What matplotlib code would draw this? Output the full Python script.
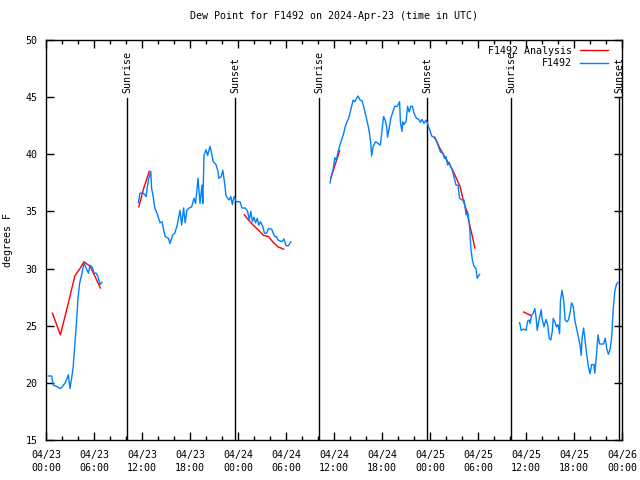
import numpy as np
import matplotlib
matplotlib.use("Agg")
import matplotlib.pyplot as plt
from matplotlib.ticker import MultipleLocator

plt.rcParams['font.family'] = ['DejaVu Sans Mono']
FS = 7.2

title = "Dew Point for F1492 on 2024-Apr-23 (time in UTC)"
ylabel = "degrees F"

# hours since 2024-04-23 00:00 UTC
obs_h1 = [0.29, 0.71, 0.9, 1.3, 1.75, 1.96, 2.4, 2.8, 3.0, 3.2, 3.4, 3.6, 3.8, 4.0, 4.2, 4.5,
          4.75, 5.1, 5.3, 5.5, 5.8, 6.0, 6.25, 6.5, 6.75, 7.0]
obs_v1 = [20.6, 20.6, 19.8, 19.7, 19.5, 19.6, 20.0, 20.7, 19.5, 20.4, 21.4, 23.3, 25.2, 27.4, 28.7, 29.6,
          30.5, 29.9, 29.6, 30.3, 30.1, 29.6, 29.6, 29.3, 28.6, 28.8]

obs_h2 = [11.54, 11.75, 12.17, 12.5, 12.8, 13.1, 13.2, 13.4, 13.6, 13.9, 14.25, 14.5, 14.7, 14.9, 15.3,
          15.5, 15.8, 16.1, 16.4, 16.75, 16.96, 17.2, 17.4, 17.6, 17.9, 18.2, 18.5, 18.7, 19.0, 19.25,
          19.5, 19.6, 19.75, 20.0, 20.2, 20.5, 20.7, 20.9, 21.25, 21.5, 21.6, 21.9, 22.1, 22.3, 22.5,
          22.7, 22.9, 23.1, 23.3, 23.5, 23.8, 24.25, 24.5, 24.9, 25.2, 25.4, 25.6, 25.8, 26.0, 26.2,
          26.4, 26.6, 26.8, 27.1, 27.3, 27.6, 27.8, 28.2, 28.4, 28.6, 28.8, 29.0, 29.5, 29.75, 30.0,
          30.3, 30.6]
obs_v2 = [35.77, 36.6, 36.6, 36.3, 37.75, 38.5, 37.0, 36.3, 35.3, 34.8, 34.0, 34.1, 33.4, 32.8, 32.65,
          32.2, 32.9, 33.1, 33.8, 35.1, 33.8, 35.3, 34.0, 35.1, 35.3, 35.4, 36.15, 35.7, 37.9, 35.7,
          37.3, 35.7, 39.9, 40.4, 39.9, 40.7, 40.1, 39.35, 39.1, 38.5, 37.9, 38.05, 38.6, 37.6, 36.4,
          36.15, 36.0, 36.3, 35.6, 36.3, 35.85, 35.85, 35.3, 35.3, 35.0, 34.25, 35.0, 34.1, 34.5, 34.0,
          34.4, 33.8, 34.1, 33.7, 33.1, 33.1, 33.5, 33.45, 33.1, 32.8, 32.8, 32.5, 32.35, 32.6, 32.0,
          32.0, 32.35]

obs_h3 = [35.5, 35.7, 35.9, 36.1, 36.3, 36.5, 36.8, 37.2, 37.4, 37.6, 37.8, 38.0, 38.2, 38.4, 38.6,
          39.0, 39.25, 39.5, 39.7, 40.0, 40.2, 40.4, 40.6, 40.7, 40.9, 41.2, 41.5, 41.8, 42.0, 42.2,
          42.4, 42.6, 42.7, 42.9, 43.1, 43.3, 43.6, 43.9, 44.2, 44.3, 44.5, 44.6, 44.75, 45.0, 45.2,
          45.4, 45.6, 45.8, 46.0, 46.3, 46.6, 46.8, 47.0, 47.25, 47.5, 47.7, 47.8, 48.0, 48.2, 48.5,
          48.75, 49.0, 49.3, 49.6, 49.8, 50.0, 50.2, 50.4, 50.6, 50.8, 51.0, 51.25, 51.5, 51.7, 52.0,
          52.25, 52.4, 52.5, 52.7, 52.9, 53.0, 53.1, 53.3, 53.5, 53.75, 53.9, 54.2]
obs_v3 = [37.5, 38.2, 38.7, 39.7, 39.5, 40.2, 40.95, 41.8, 42.4, 42.8, 43.1, 43.6, 44.2, 44.75, 44.6,
          45.1, 44.75, 44.7, 44.2, 43.3, 42.7, 42.0, 40.95, 39.85, 40.7, 41.1, 40.95, 40.8, 42.1, 43.3,
          43.0, 42.3, 41.5, 42.3, 43.15, 43.6, 44.2, 44.2, 44.6, 42.8, 42.0, 42.85, 42.6, 42.85, 44.2,
          43.7, 44.2, 44.2, 43.6, 43.15, 43.05, 42.8, 43.05, 42.7, 43.0, 42.7, 42.4, 42.1, 41.6, 41.5,
          41.25, 40.8, 40.2, 40.1, 39.65, 39.8, 39.06, 39.3, 38.9, 38.6, 38.0, 37.3, 37.3, 36.15, 36.0,
          36.0, 35.3, 34.7, 35.0, 34.0, 33.1, 31.8, 30.75, 30.2, 30.0, 29.15, 29.5]

obs_h4 = [59.2, 59.4, 59.7, 60.0, 60.2, 60.4, 60.5, 60.7, 60.9, 61.1, 61.25, 61.4, 61.6, 61.9, 62.0,
          62.25, 62.5, 62.7, 62.9, 63.1, 63.3, 63.4, 63.6, 63.8, 64.0, 64.2, 64.3, 64.5, 64.7, 64.9,
          65.1, 65.3, 65.5, 65.7, 65.9, 66.1, 66.3, 66.5, 66.75, 66.9, 67.0, 67.2, 67.4, 67.6, 67.8,
          68.0, 68.2, 68.5, 68.6, 68.8, 69.0, 69.2, 69.5, 69.7, 69.9, 70.1, 70.3, 70.5, 70.7, 70.9,
          71.1, 71.3, 71.5]
obs_v4 = [25.27, 24.6, 24.7, 24.6, 25.4, 25.5, 25.2, 25.9, 26.1, 26.5, 25.8, 24.6, 25.4, 26.4, 25.65,
          24.9, 25.55, 25.1, 23.9, 23.75, 24.6, 25.65, 25.35, 24.9, 25.1, 24.3, 27.1, 28.1, 27.25, 25.5,
          25.35, 25.5, 26.1, 27.0, 26.7, 25.5, 24.8, 24.2, 23.3, 22.4, 23.9, 24.8, 23.6, 22.4, 21.4,
          20.8, 21.6, 21.6, 20.85, 22.4, 24.2, 23.4, 23.4, 23.4, 23.9, 23.0, 22.5, 22.9, 23.9, 26.4,
          28.0, 28.6, 28.8]

ana_h1 = [0.8, 1.8, 2.8, 3.6, 4.25, 4.75, 5.5, 6.1, 6.8]
ana_v1 = [26.1, 24.2, 27.0, 29.35, 30.0, 30.6, 30.2, 29.35, 28.3]
ana_h2 = [11.6, 12.2, 12.9]
ana_v2 = [35.4, 37.0, 38.5]
ana_h3 = [24.8, 25.3, 25.9, 26.5, 27.2, 27.8, 28.4, 29.0, 29.7]
ana_v3 = [34.7, 34.25, 33.8, 33.4, 32.9, 32.8, 32.3, 31.9, 31.7]
ana_h4 = [35.6, 36.7]
ana_v4 = [37.9, 40.3]
ana_h5 = [48.6, 49.25, 49.9, 50.7, 51.3, 51.75, 52.2, 52.6, 53.0, 53.3, 53.6]
ana_v5 = [41.5, 40.5, 39.7, 38.8, 37.9, 37.2, 35.85, 35.0, 33.7, 32.8, 31.8]
ana_h6 = [59.7, 60.3, 60.6]
ana_v6 = [26.2, 26.0, 25.9]

sunrise_h = [10.13, 34.13, 58.13]
sunset_h = [23.63, 47.63, 71.63]

xtick_h = list(range(0, 73, 6))
xtick_labels = ["04/23\n00:00", "04/23\n06:00", "04/23\n12:00", "04/23\n18:00",
                "04/24\n00:00", "04/24\n06:00", "04/24\n12:00", "04/24\n18:00",
                "04/25\n00:00", "04/25\n06:00", "04/25\n12:00", "04/25\n18:00",
                "04/26\n00:00"]

RED = "#ff0000"
BLUE = "#0080ff"

fig = plt.figure(figsize=(6.4, 4.8), dpi=100)
ax = fig.add_axes([46/640, 40/480, 576/640, 400/480])

ana = [(ana_h1, ana_v1), (ana_h2, ana_v2), (ana_h3, ana_v3), (ana_h4, ana_v4), (ana_h5, ana_v5), (ana_h6, ana_v6)]
obs = [(obs_h1, obs_v1), (obs_h2, obs_v2), (obs_h3, obs_v3), (obs_h4, obs_v4)]
for i, (h, v) in enumerate(ana):
    ax.plot(h, v, color=RED, lw=1.0, label="F1492 Analysis" if i == 0 else None, zorder=3)
for i, (h, v) in enumerate(obs):
    ax.plot(h, v, color=BLUE, lw=1.0, label="F1492" if i == 0 else None, zorder=4)

for h in sunrise_h:
    ax.axvline(h, ymin=0, ymax=0.855, color="black", lw=1.0)
    ax.text(h, 0.8675, "Sunrise", rotation=90, ha="center", va="bottom",
            transform=ax.get_xaxis_transform(), fontsize=FS)
for h in sunset_h:
    ax.axvline(h, ymin=0, ymax=0.855, color="black", lw=1.0)
    ax.text(h, 0.8675, "Sunset", rotation=90, ha="center", va="bottom",
            transform=ax.get_xaxis_transform(), fontsize=FS)

ax.set_xlim(0, 72)
ax.set_ylim(15, 50)
ax.set_xticks(xtick_h)
ax.set_xticklabels(xtick_labels, fontsize=FS, linespacing=1.35)
ax.xaxis.set_minor_locator(MultipleLocator(2))
ax.yaxis.set_major_locator(MultipleLocator(5))
ax.tick_params(axis="y", labelsize=FS)
ax.tick_params(which="both", direction="in", top=True, right=True, width=1.0)
ax.tick_params(which="major", length=6, pad=6)
ax.tick_params(axis="x", which="major", pad=7)
ax.tick_params(which="minor", length=3)
for s in ax.spines.values():
    s.set_linewidth(1.0)

ax.set_title(title, fontsize=FS, pad=15)
ax.set_ylabel(ylabel, fontsize=FS, labelpad=9)

leg = ax.legend(loc="upper right", bbox_to_anchor=(1 - 10/576, 1 - 2/400), markerfirst=False,
                frameon=False, fontsize=FS, handlelength=2.8, borderaxespad=0.3, borderpad=0.1,
                labelspacing=0.25, handletextpad=0.8)

fig.savefig("out.png", dpi=100)
